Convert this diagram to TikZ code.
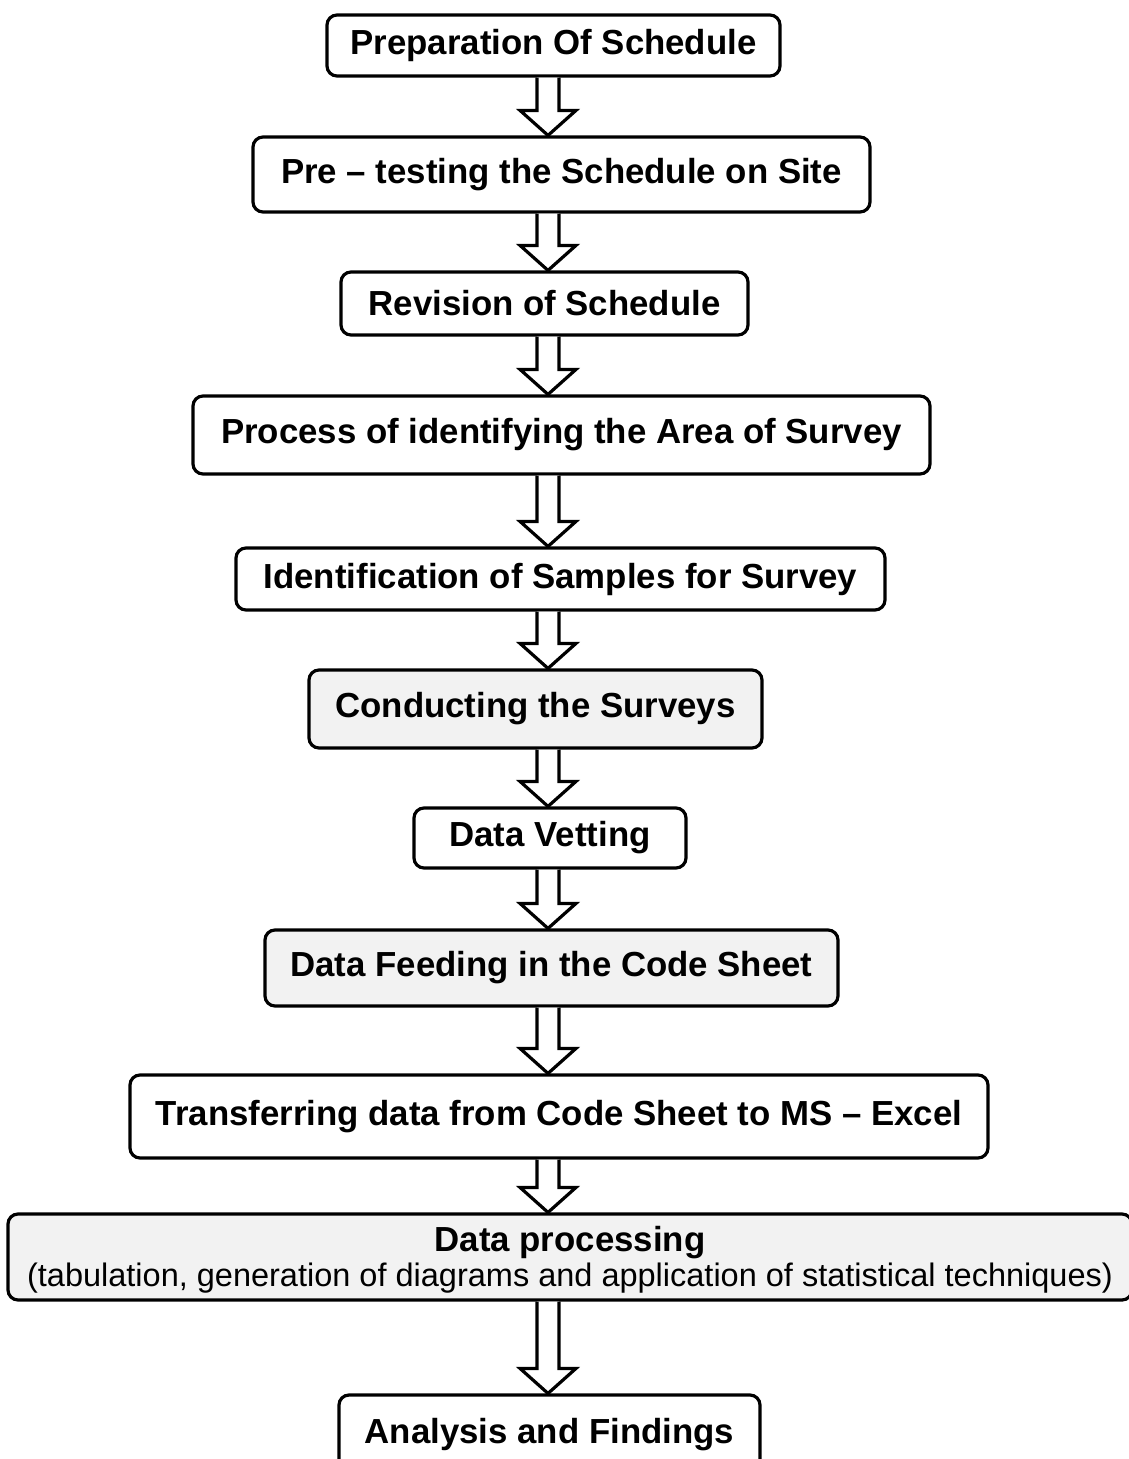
\documentclass[tikz,border=0pt]{standalone}
\usepackage{fontspec}
\setmainfont{Liberation Sans}
\usetikzlibrary{calc}
\begin{document}
\begin{tikzpicture}[x=1pt,y=-1pt,
  stepbox/.style={draw=black, line width=3.2pt, rounded corners=10pt, fill=white,
    inner sep=0pt, align=center,
    font=\fontsize{34.8}{40}\selectfont\bfseries},
  noisy/.style={fill=black!5},
  blockarr/.style={draw=black, line width=3.2pt, fill=white, line join=miter}]
\useasboundingbox (0,0) rectangle (1129,1459);
\clip (0,0) rectangle (1129,1459);
\coordinate (ax) at (548,0);
\node[stepbox, minimum width=453pt, minimum height=61pt] (n1) at (553.5,45.5) {Preparation Of Schedule};
\node[stepbox, minimum width=617pt, minimum height=75pt] (n2) at (561.5,174.5) {Pre – testing the Schedule on Site};
\node[stepbox, minimum width=407pt, minimum height=63pt] (n3) at (544.5,303.5) {Revision of Schedule};
\node[stepbox, minimum width=737pt, minimum height=78pt] (n4) at (561.5,435) {Process of identifying the Area of Survey};
\node[stepbox, minimum width=649pt, minimum height=62pt] (n5) at (560.5,579) {Identification of Samples for Survey};
\node[stepbox, noisy, minimum width=453pt, minimum height=78pt] (n6) at (535.5,709) {Conducting the Surveys};
\node[stepbox, minimum width=272pt, minimum height=60pt] (n7) at (550,838) {Data Vetting};
\node[stepbox, noisy, minimum width=573pt, minimum height=76pt] (n8) at (551.5,968) {Data Feeding in the Code Sheet};
\node[stepbox, minimum width=858pt, minimum height=83pt] (n9) at (559,1116.5) {Transferring data from Code Sheet to MS – Excel};
\node[stepbox, noisy, minimum width=1124pt, minimum height=86pt,
  label={[yshift=-3pt, align=center, inner sep=0pt, font=\fontsize{34.8}{40}\selectfont\bfseries]center:{Data processing\\[-5pt]{\fontsize{32.5}{36}\selectfont\mdseries (tabulation, generation of diagrams and application of statistical techniques)}}}] (n10) at (570,1257) {};
\node[stepbox, minimum width=421pt, minimum height=80pt] (n11) at (549.5,1435) {Analysis and Findings};
\newcommand{\blockarrow}[2]{%
  \draw[blockarr] let \p1=(ax |- #1.south), \p2=(ax |- #2.north) in
    ({\x1-11pt},\y1) -- ({\x1-11pt},{\y2+25pt}) -- ({\x1-28pt},{\y2+25pt}) --
    (\x2,\y2) -- ({\x1+28pt},{\y2+25pt}) -- ({\x1+11pt},{\y2+25pt}) -- ({\x1+11pt},\y1);}
\blockarrow{n1}{n2}
\blockarrow{n2}{n3}
\blockarrow{n3}{n4}
\blockarrow{n4}{n5}
\blockarrow{n5}{n6}
\blockarrow{n6}{n7}
\blockarrow{n7}{n8}
\blockarrow{n8}{n9}
\blockarrow{n9}{n10}
\blockarrow{n10}{n11}
\end{tikzpicture}
\end{document}
